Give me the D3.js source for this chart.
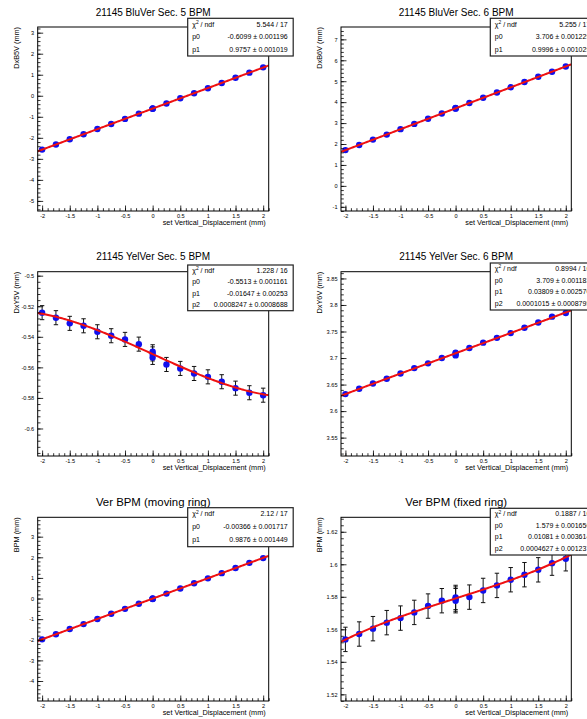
<!DOCTYPE html>
<html><head><meta charset="utf-8">
<script src="https://cdn.jsdelivr.net/npm/d3@7"></script>
<style>
body{margin:0;background:#fff;}
svg{display:block;font-family:"Liberation Sans",Arial,Helvetica,sans-serif;}
</style></head><body>
<svg id="c" width="587" height="719"></svg>
<script>
// set vertical displacement (mm); three repeated measurements at 0
const xSet = [-2,-1.75,-1.5,-1.25,-1,-0.75,-0.5,-0.25,0,0,0,0.25,0.5,0.75,1,1.25,1.5,1.75,2];

// measured BPM readings (mm)
const b5v = [-2.56,-2.32,-2.07,-1.83,-1.58,-1.34,-1.10,-0.85,-0.60,-0.62,-0.61,-0.37,-0.12,0.12,0.36,0.61,0.86,1.10,1.35];
const b6v = [1.71,1.95,2.21,2.45,2.71,2.96,3.21,3.46,3.71,3.69,3.72,3.96,4.21,4.46,4.71,4.96,5.21,5.45,5.70];
const y5v = [-0.5242,-0.5275,-0.5312,-0.5328,-0.5367,-0.5393,-0.5417,-0.5448,-0.5498,-0.5535,-0.5512,-0.5581,-0.5607,-0.5640,-0.5662,-0.5694,-0.5736,-0.5766,-0.5782];
const y5vErr = [0.0046,0.0046,0.0046,0.0046,0.0046,0.0046,0.0046,0.0046,0.0046,0.0046,0.0046,0.0046,0.0046,0.0046,0.0046,0.0046,0.0046,0.0046,0.0046];
const y6v = [3.632,3.642,3.652,3.661,3.671,3.681,3.690,3.700,3.710,3.705,3.708,3.719,3.729,3.738,3.747,3.757,3.767,3.778,3.785];
const bpmMoving = [-1.98,-1.73,-1.48,-1.24,-0.99,-0.74,-0.50,-0.25,-0.01,0.00,-0.02,0.24,0.49,0.74,0.98,1.23,1.48,1.73,1.96];
const bpmFixed = [1.5538,1.5571,1.5604,1.5641,1.5669,1.5704,1.5743,1.5776,1.5796,1.5776,1.5786,1.5798,1.5839,1.5870,1.5905,1.5936,1.5966,1.6007,1.6034];
const bpmFixedErr = [0.0075,0.0075,0.0075,0.0075,0.0075,0.0075,0.0075,0.0075,0.0075,0.0075,0.0075,0.0075,0.0075,0.0075,0.0075,0.0075,0.0075,0.0075,0.0075];

// fit parameters: f(x) = p0 + p1*x + p2*x^3
const fitB5V = [-0.6099, 0.9757, 0];
const fitB6V = [3.706, 0.9996, 0];
const fitY5V = [-0.5513, -0.01647, 0.0008247];
const fitY6V = [3.709, 0.03809, 0.0001015];
const fitMoving = [-0.00366, 0.9876, 0];
const fitFixed = [1.579, 0.01081, 0.0004627];

// fit statistics boxes
const statsB5V = [["chi", "5.544 / 17"], ["p0", "-0.6099 \u00b1 0.001196"], ["p1", "0.9757 \u00b1 0.001019"]];
const statsB6V = [["chi", "5.255 / 17"], ["p0", "3.706 \u00b1 0.001229"], ["p1", "0.9996 \u00b1 0.001029"]];
const statsY5V = [["chi", "1.228 / 16"], ["p0", "-0.5513 \u00b1 0.001161"], ["p1", "-0.01647 \u00b1 0.00253"], ["p2", "0.0008247 \u00b1 0.0008688"]];
const statsY6V = [["chi", "0.8994 / 16"], ["p0", "3.709 \u00b1 0.001183"], ["p1", "0.03809 \u00b1 0.002570"], ["p2", "0.0001015 \u00b1 0.0008795"]];
const statsMoving = [["chi", "2.12 / 17"], ["p0", "-0.00366 \u00b1 0.001717"], ["p1", "0.9876 \u00b1 0.001449"]];
const statsFixed = [["chi", "0.1887 / 16"], ["p0", "1.579 \u00b1 0.001656"], ["p1", "0.01081 \u00b1 0.003614"], ["p2", "0.0004627 \u00b1 0.001237"]];

// titles and axis labels
const titles = ["21145 BluVer Sec. 5 BPM", "21145 BluVer Sec. 6 BPM", "21145 YelVer Sec. 5 BPM", "21145 YelVer Sec. 6 BPM", "Ver BPM (moving ring)", "Ver BPM (fixed ring)"];
const yTitles = ["DxB5V (mm)", "DxB6V (mm)", "DxY5V (mm)", "DxY6V (mm)", "BPM (mm)", "BPM (mm)"];
const xTitle = "set Vertical_Displacement (mm)";

// tick labels
const xTicks = [-2, -1.5, -1, -0.5, 0, 0.5, 1, 1.5, 2];
const yTicksB5V = [-5, -4, -3, -2, -1, 0, 1, 2, 3];
const yTicksB6V = [-1, 0, 1, 2, 3, 4, 5, 6, 7];
const yTicksY5V = [-0.6, -0.58, -0.56, -0.54, -0.52, -0.5];
const yTicksY6V = [3.55, 3.6, 3.65, 3.7, 3.75, 3.8, 3.85];
const yTicksMoving = [-4, -3, -2, -1, 0, 1, 2, 3];
const yTicksFixed = [1.52, 1.54, 1.56, 1.58, 1.6, 1.62];

// ---------- layout ----------
const xDomain = [-2.08, 2.1];
const cols = [
  {left: 37.7, right: 268.7, boxLeft: 187.7, yTitleX: 18.6},
  {left: 341, right: 571.3, boxLeft: 490.3, yTitleX: 321.6}
];
const rows = [
  {top: 27, bottom: 211, titleY: 15.5, titleSize: 10},
  {top: 271.7, bottom: 456, titleY: 259.6, titleSize: 10},
  {top: 517.3, bottom: 701, titleY: 505.8, titleSize: 11.4}
];

const panels = [
  {col: 0, row: 0, title: titles[0], yTitle: yTitles[0], y: b5v, err: null, fit: fitB5V, stats: statsB5V,
   yDomain: [-5.48, 3.27], yTicks: yTicksB5V, yMinor: 0.2, box: [18.3, 56]},
  {col: 1, row: 0, title: titles[1], yTitle: yTitles[1], y: b6v, err: null, fit: fitB6V, stats: statsB6V,
   yDomain: [-1.2, 7.59], yTicks: yTicksB6V, yMinor: 0.2, box: [18.3, 56]},
  {col: 0, row: 1, title: titles[2], yTitle: yTitles[2], y: y5v, err: y5vErr, fit: fitY5V, stats: statsY5V,
   yDomain: [-0.618, -0.4974], yTicks: yTicksY5V, yMinor: 0.004, box: [265, 310.7]},
  {col: 1, row: 1, title: titles[3], yTitle: yTitles[3], y: y6v, err: null, fit: fitY6V, stats: statsY6V,
   yDomain: [3.5154, 3.8627], yTicks: yTicksY6V, yMinor: 0.01, box: [263, 310]},
  {col: 0, row: 2, title: titles[4], yTitle: yTitles[4], y: bpmMoving, err: null, fit: fitMoving, stats: statsMoving,
   yDomain: [-4.97, 3.94], yTicks: yTicksMoving, yMinor: 0.2, box: [507.7, 546.7]},
  {col: 1, row: 2, title: titles[5], yTitle: yTitles[5], y: bpmFixed, err: bpmFixedErr, fit: fitFixed, stats: statsFixed,
   yDomain: [1.5159, 1.6289], yTicks: yTicksFixed, yMinor: 0.004, box: [508.3, 555]}
];

const svg = d3.select("#c");
svg.append("rect").attr("width", 587).attr("height", 719).attr("fill", "#fff");

const fmt = v => String(+v.toFixed(4));
const minorValues = (dom, step) => {
  const lo = Math.ceil(dom[0] / step - 1e-6), hi = Math.floor(dom[1] / step + 1e-6);
  return d3.range(lo, hi + 1).map(i => +(i * step).toFixed(6));
};

panels.forEach((p, k) => {
  const c = cols[p.col], r = rows[p.row];
  const x = d3.scaleLinear().domain(xDomain).range([c.left, c.right]);
  const y = d3.scaleLinear().domain(p.yDomain).range([r.bottom, r.top]);
  const g = svg.append("g");

  const clipId = "clip" + k;
  g.append("clipPath").attr("id", clipId).append("rect")
    .attr("x", c.left).attr("y", r.top).attr("width", c.right - c.left).attr("height", r.bottom - r.top);

  const pts = xSet.map((xv, i) => ({x: xv, y: p.y[i], e: p.err ? p.err[i] : 0}));
  const plot = g.append("g").attr("clip-path", `url(#${clipId})`);

  // error bars
  if (p.err) {
    const eb = plot.append("g").attr("stroke", "#111").attr("stroke-width", 1);
    pts.forEach(d => {
      const cx = x(d.x), y1 = y(d.y + d.e), y0 = y(d.y - d.e);
      eb.append("line").attr("x1", cx).attr("x2", cx).attr("y1", y1).attr("y2", y0);
      eb.append("line").attr("x1", cx - 2.2).attr("x2", cx + 2.2).attr("y1", y1).attr("y2", y1);
      eb.append("line").attr("x1", cx - 2.2).attr("x2", cx + 2.2).attr("y1", y0).attr("y2", y0);
    });
  }

  // markers
  plot.append("g").selectAll("circle").data(pts).join("circle")
    .attr("cx", d => x(d.x)).attr("cy", d => y(d.y)).attr("r", 3.2).attr("fill", "#1010ee");

  // fitted function
  const f = xv => p.fit[0] + p.fit[1] * xv + p.fit[2] * xv * xv * xv;
  const xs = d3.range(0, 201).map(i => xDomain[0] + i * (xDomain[1] - xDomain[0]) / 200);
  plot.append("path").datum(xs)
    .attr("d", d3.line().x(d => x(d)).y(d => y(f(d))))
    .attr("fill", "none").attr("stroke", "#ee1111").attr("stroke-width", 2);

  // axes (ticks inside the frame)
  const xAx = g.append("g").attr("transform", `translate(0,${r.bottom})`);
  xAx.call(d3.axisBottom(x).tickValues(xTicks).tickSize(-5.5).tickPadding(2.8).tickFormat(fmt));
  xAx.append("g").call(d3.axisBottom(x).tickValues(minorValues(xDomain, 0.1)).tickSize(-2.8).tickFormat(""));
  const yAx = g.append("g").attr("transform", `translate(${c.left},0)`);
  yAx.call(d3.axisLeft(y).tickValues(p.yTicks).tickSize(-5.5).tickPadding(3.5).tickFormat(fmt));
  yAx.append("g").call(d3.axisLeft(y).tickValues(minorValues(p.yDomain, p.yMinor)).tickSize(-2.8).tickFormat(""));
  [xAx, yAx].forEach(a => {
    a.selectAll(".domain").remove();
    a.selectAll("line").attr("stroke", "#000").attr("stroke-width", 0.8);
    a.selectAll("text").attr("font-size", 5.6).attr("fill", "#000").attr("font-family", "Liberation Sans, Arial, sans-serif");
  });

  // frame
  g.append("rect").attr("x", c.left).attr("y", r.top)
    .attr("width", c.right - c.left).attr("height", r.bottom - r.top)
    .attr("fill", "none").attr("stroke", "#000").attr("stroke-width", 1);

  // axis titles
  g.append("text").attr("x", c.right - 3).attr("y", r.bottom + 14.2)
    .attr("text-anchor", "end").attr("font-size", 7.3).text(xTitle);
  g.append("text").attr("transform", `translate(${c.yTitleX},${r.top}) rotate(-90)`)
    .attr("text-anchor", "end").attr("font-size", 7.3).text(p.yTitle);

  // panel title
  g.append("text").attr("x", (c.left + c.right) / 2).attr("y", r.titleY)
    .attr("text-anchor", "middle").attr("font-size", r.titleSize).text(p.title);

  // statistics box
  const bw = 105.5, bt = p.box[0], bh = p.box[1] - p.box[0];
  const sb = g.append("g");
  sb.append("rect").attr("x", c.boxLeft).attr("y", bt).attr("width", bw).attr("height", bh)
    .attr("fill", "#fff").attr("stroke", "#222").attr("stroke-width", 1.2);
  const rh = bh / p.stats.length, fs = 7;
  p.stats.forEach((s, i) => {
    const by = bt + rh * (i + 0.5) + fs * 0.35 - 0.5;
    const lab = sb.append("text").attr("x", c.boxLeft + 4.5).attr("y", by).attr("font-size", fs);
    if (s[0] === "chi") {
      lab.append("tspan").text("\u03c7");
      lab.append("tspan").attr("font-size", fs * 0.7).attr("dy", -2.5).text("2");
      lab.append("tspan").attr("dy", 2.5).text(" / ndf");
    } else {
      lab.text(s[0]);
    }
    sb.append("text").attr("x", c.boxLeft + bw - 5.5).attr("y", by)
      .attr("text-anchor", "end").attr("font-size", fs).text(s[1]);
  });
});
</script></body></html>
